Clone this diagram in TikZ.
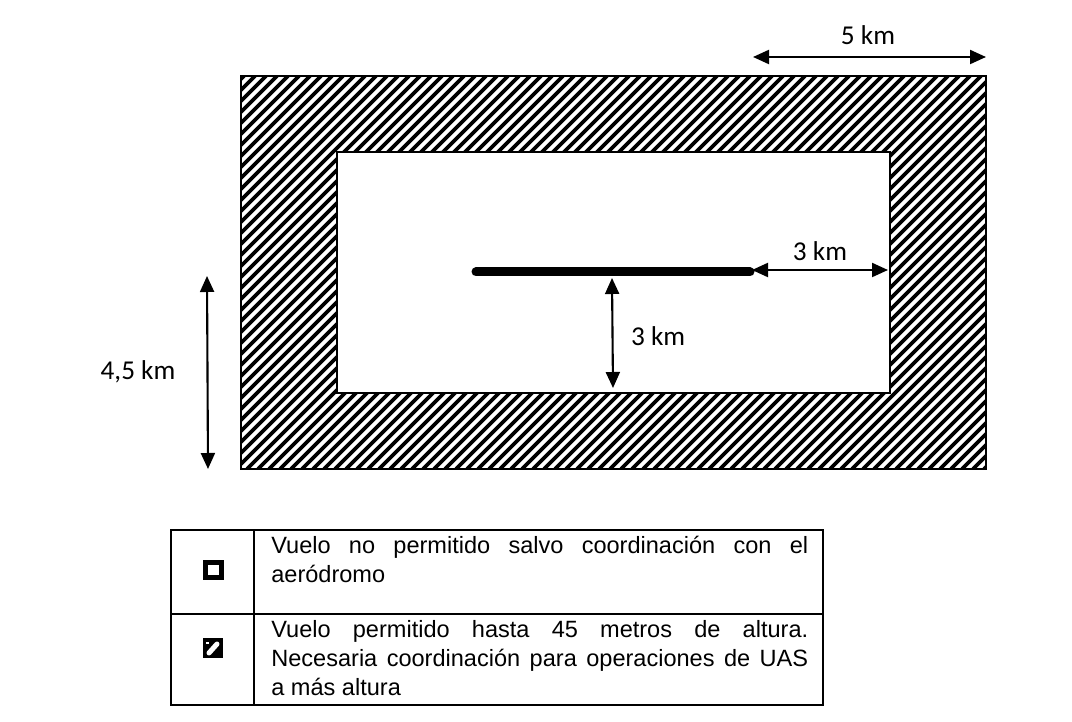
\documentclass[tikz,border=0pt]{standalone}
\usepackage{fontspec}
\setmainfont{Liberation Sans}
\newfontfamily\dimfont{Carlito}
\usetikzlibrary{
    arrows.meta,   % For the dimension arrow tips
    positioning    % For relative placement of nodes
}

\begin{document}
\begin{tikzpicture}[
    x=0.02cm, y=-0.02cm,
    dimarrow/.style={{Triangle[length=3.2mm, width=2.8mm]}-{Triangle[length=3.2mm, width=2.8mm]}, line width=1.2pt},
    dimlabel/.style={font=\dimfont\fontsize{15.5}{18}\selectfont, inner sep=1pt},
    hatchline/.style={line width=0.075cm},
    legendtext/.style={text width=10.74cm, inner sep=0pt, anchor=north west, align=justify,
                       font=\fontsize{13.4}{16.4}\selectfont}
]
    \useasboundingbox (0,0) rectangle (1072,722);

    % --- The hatched zone ---
    \begin{scope}
        \clip (241,76) rectangle (986,469);
        \foreach \x in {-160,-149,...,990}
            \draw[hatchline] (\x,469) -- ++(393,-393);
    \end{scope}
    \draw[line width=1.6pt] (241,76) rectangle (986,469);

    % --- The free zone round the runway ---
    \draw[line width=1.2pt, fill=white] (337,152) rectangle (890,393);

    % --- Runway ---
    \coordinate (runwayW) at (476,272);
    \coordinate (runwayE) at (750,272);
    \draw[line width=0.18cm, line cap=round] (runwayW) -- (runwayE);

    % --- Dimensions ---
    \coordinate (topW) at (753,57);
    \coordinate (topE) at (986,57);
    \draw[dimarrow] (topW) -- (topE);
    \node[dimlabel] (toplbl) at (868,35) {5 km};

    \coordinate (sideW) at (752,270);
    \coordinate (sideE) at (888,270);
    \draw[dimarrow] (sideW) -- (sideE);
    \node[dimlabel] (sidelbl) at (820,251) {3 km};

    \coordinate (downN) at (612,278);
    \coordinate (downS) at (613,388);
    \draw[dimarrow] (downN) -- (downS);
    \node[dimlabel, right=0.34cm of downN, yshift=-1.16cm] (downlbl) {3 km};

    \coordinate (leftN) at (207,276);
    \coordinate (leftS) at (208,469);
    \draw[dimarrow] (leftN) -- (leftS);
    \node[dimlabel] (leftlbl) at (138,372) {4,5 km};

    % --- Legend table ---
    \draw[line width=0.8pt] (171,530) rectangle (823,705);
    \draw[line width=0.8pt] (254,530) -- (254,705);
    \draw[line width=0.8pt] (171,614) -- (823,614);

    \node[draw, line width=0.1cm, minimum size=0.32cm, inner sep=0pt] (iconfree) at (213,570) {};
    \node[fill=black, minimum size=0.4cm, inner sep=0pt] (iconhatch) at (213,648) {};
    \draw[white, line width=0.1cm, line cap=round] ([shift={(-4,5)}]iconhatch.center) -- ([shift={(4,-4)}]iconhatch.center);
    \draw[white, line width=0.03cm] ([shift={(-7,-5)}]iconhatch.center) -- ([shift={(-4,-5)}]iconhatch.center);

    \node[legendtext] (textfree) at (271,536)
        {Vuelo no permitido salvo coordinación con el\linebreak aeródromo};
    \node[legendtext] (texthatch) at (271,620)
        {Vuelo permitido hasta 45 metros de altura.\linebreak
         Necesaria coordinación para operaciones de UAS\linebreak a más altura};
\end{tikzpicture}
\end{document}
